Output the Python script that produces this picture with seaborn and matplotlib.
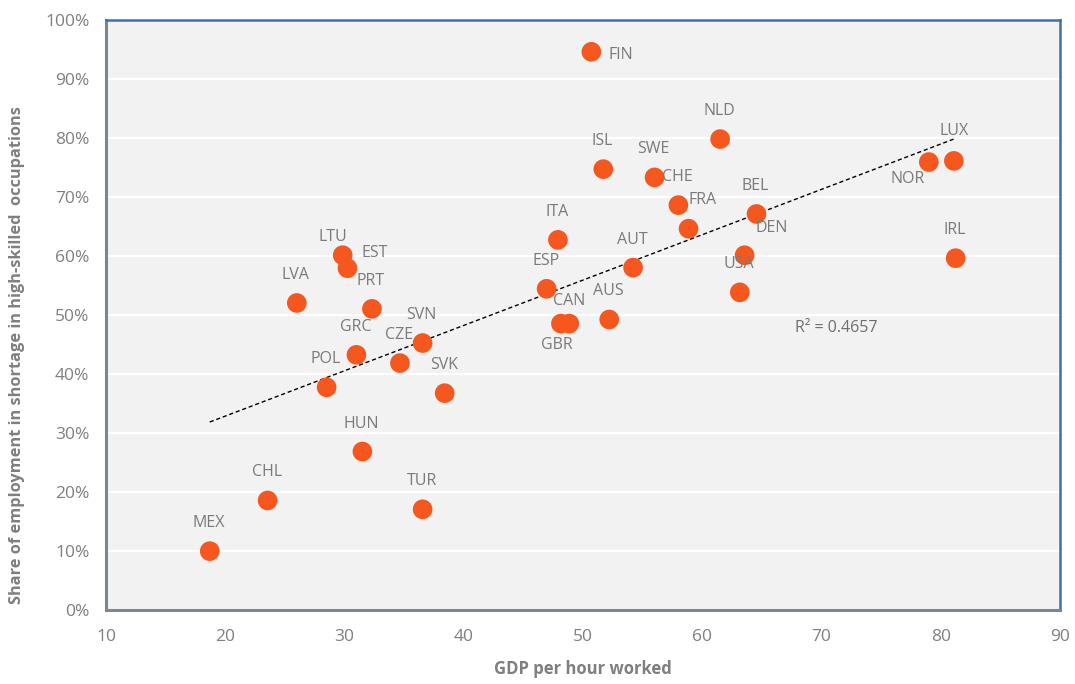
import matplotlib
matplotlib.use("Agg")
import matplotlib.pyplot as plt
import matplotlib.ticker as mticker
import seaborn as sns
import pandas as pd
import numpy as np

# ---- data ----
countries = ["MEX", "CHL", "POL", "LVA", "LTU", "EST", "PRT", "GRC", "SVN", "CZE",
             "SVK", "HUN", "TUR", "FIN", "ISL", "SWE", "CHE", "FRA", "ITA", "AUT",
             "ESP", "CAN", "GBR", "AUS", "NLD", "BEL", "DEN", "USA", "NOR", "LUX", "IRL"]
gdp_per_hour = [18.7, 23.55, 28.5, 26.0, 29.85, 30.25, 32.3, 31.0, 36.55, 34.65,
                38.4, 31.5, 36.55, 50.7, 51.7, 56.0, 58.0, 58.85, 47.9, 54.2,
                46.95, 48.85, 48.15, 52.2, 61.5, 64.55, 63.55, 63.15, 79.0, 81.1, 81.25]
share_shortage = [0.099, 0.185, 0.377, 0.520, 0.601, 0.579, 0.510, 0.432, 0.452, 0.418,
                  0.367, 0.268, 0.170, 0.946, 0.747, 0.733, 0.686, 0.646, 0.627, 0.580,
                  0.544, 0.485, 0.485, 0.492, 0.798, 0.671, 0.601, 0.538, 0.759, 0.761, 0.596]
r2_text = "R² = 0.4657"
x_ticks = [10, 20, 30, 40, 50, 60, 70, 80, 90]
y_ticks = [0.0, 0.1, 0.2, 0.3, 0.4, 0.5, 0.6, 0.7, 0.8, 0.9, 1.0]

# label offsets in pixels (dx, dy upward)
label_offsets = {
    "LTU": (-10, 18), "EST": (27, 15), "FIN": (29, -3), "FRA": (14, 29),
    "CAN": (0, 23), "GBR": (-4, -21), "DEN": (27, 27), "NOR": (-21, -17),
    "LUX": (0, 30),
}
default_offset = (-1, 28)

df = pd.DataFrame({"country": countries, "gdp": gdp_per_hour, "share": share_shortage})

sns.set_theme(style="white")
plt.rcParams["font.family"] = ["Open Sans", "DejaVu Sans"]

text_gray = "#7F7F7F"
fig = plt.figure(figsize=(10.75, 6.84), dpi=100)
ax = fig.add_axes([106/1075, (684-609.5)/684, (1060-106)/1075, (609.5-20)/684])
ax.set_facecolor("#F2F2F2")

ax.set_xlim(10, 90)
ax.set_ylim(0, 1.0)
ax.set_xticks(x_ticks)
ax.set_yticks(y_ticks)
ax.yaxis.set_major_formatter(mticker.PercentFormatter(xmax=1.0, decimals=0))
ax.grid(axis="y", color="white", linewidth=1.6)
ax.set_axisbelow(True)

sns.regplot(data=df, x="gdp", y="share", scatter=False, ci=None, truncate=True,
            ax=ax, line_kws=dict(color="black", linestyle=(0, (3, 2)), linewidth=1.0))
sns.scatterplot(data=df, x="gdp", y="share", ax=ax, s=200, color="#F5571F",
                edgecolor="none", zorder=3)

for c, xv, yv in zip(countries, gdp_per_hour, share_shortage):
    dx, dy = label_offsets.get(c, default_offset)
    ax.annotate(c, (xv, yv), xytext=(dx, dy), textcoords="offset pixels",
                ha="center", va="center", fontsize=11.5, color="#7A7A7A", zorder=4)

ax.text(71.25, 0.477, r2_text, ha="center", va="center", fontsize=11.5, color="#6E6E6E")

ax.tick_params(axis="y", length=0, labelsize=12.5, labelcolor=text_gray, pad=12)
ax.tick_params(axis="x", length=0, labelsize=12.5, labelcolor=text_gray, pad=14)
ax.set_xlabel("GDP per hour worked", fontsize=12, fontweight="bold", color=text_gray, labelpad=11)
ax.set_ylabel("Share of employment in shortage in high-skilled  occupations", fontsize=11.8,
              fontweight="bold", color=text_gray)
ax.yaxis.set_label_coords(-0.085, 0.432)

for side in ["left", "bottom"]:
    ax.spines[side].set_color("#7A8690")
    ax.spines[side].set_linewidth(2.2)
for side in ["top", "right"]:
    ax.spines[side].set_color("#41719C")
    ax.spines[side].set_linewidth(1.8)

fig.savefig("out.png", dpi=100, facecolor="white")
